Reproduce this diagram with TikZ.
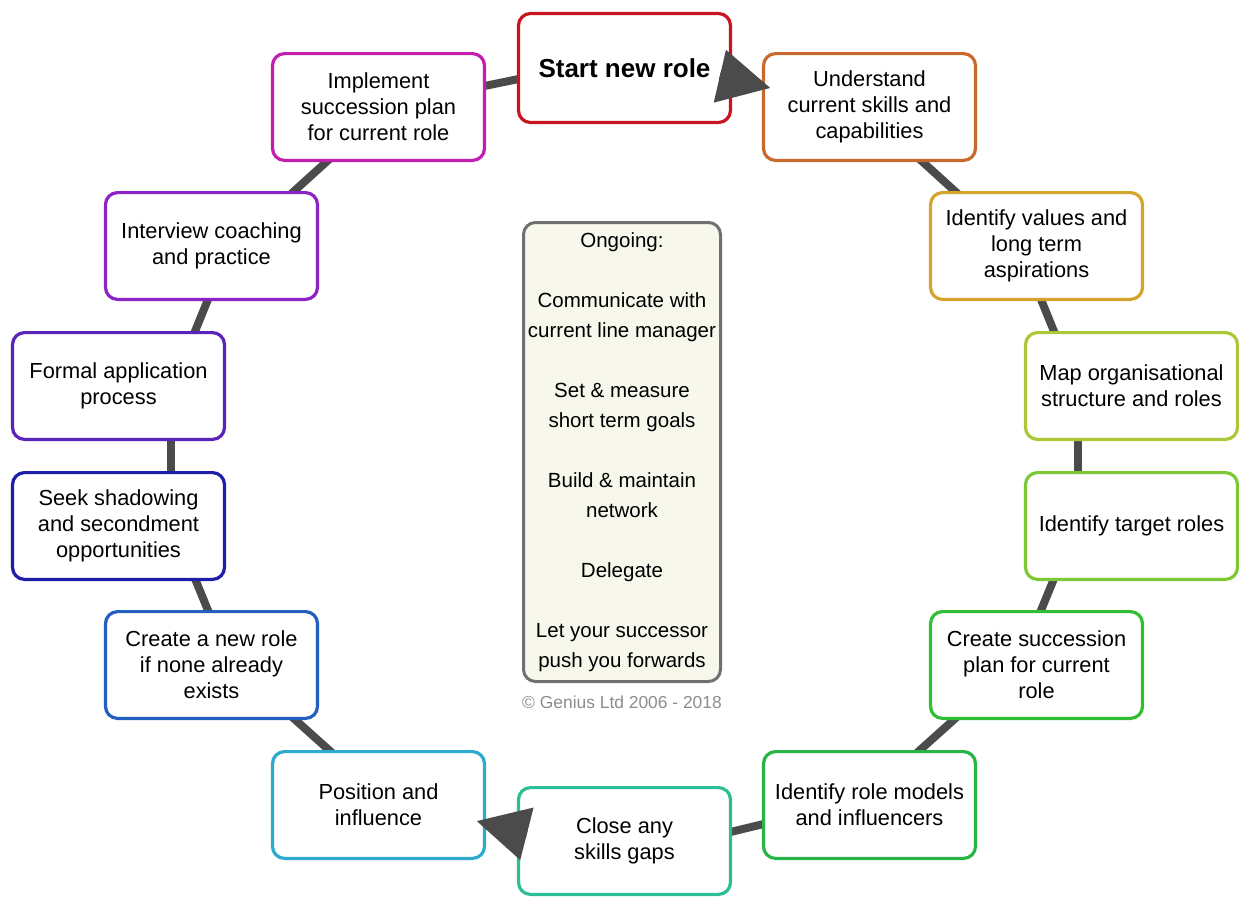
\documentclass[tikz,border=0pt]{standalone}
\usepackage{fontspec}
\setmainfont{Liberation Sans}
\usetikzlibrary{arrows.meta,backgrounds}

\definecolor{cStart}{RGB}{200,20,30}
\definecolor{cUnd}{RGB}{200,105,45}
\definecolor{cVal}{RGB}{212,165,45}
\definecolor{cMap}{RGB}{170,200,55}
\definecolor{cTgt}{RGB}{125,200,55}
\definecolor{cCsp}{RGB}{50,190,50}
\definecolor{cRm}{RGB}{40,180,70}
\definecolor{cGap}{RGB}{45,190,150}
\definecolor{cPos}{RGB}{45,170,205}
\definecolor{cNew}{RGB}{35,95,190}
\definecolor{cShd}{RGB}{30,30,170}
\definecolor{cFrm}{RGB}{90,35,185}
\definecolor{cInt}{RGB}{140,35,195}
\definecolor{cImp}{RGB}{195,30,175}
\definecolor{linkgray}{RGB}{75,75,75}
\definecolor{hubfill}{RGB}{247,247,236}
\definecolor{hubdraw}{RGB}{112,112,112}
\definecolor{notegray}{RGB}{140,140,140}

\begin{document}
\begin{tikzpicture}[x=0.5pt,y=-0.5pt,
  stage/.style={draw=#1, line width=1.6pt, rounded corners=6pt, fill=white,
    minimum width=106pt, minimum height=53.4pt, inner sep=2pt, outer sep=0pt,
    align=center, font=\fontsize{10.9}{13}\selectfont},
  link/.style={draw=linkgray, line width=4pt, shorten <=-4pt, shorten >=-4pt},
  push/.style={draw=linkgray, line width=4pt, -{Triangle[length=26pt,width=26pt]}}]

\useasboundingbox (0,0) rectangle (1239,896);

% the cycle of stages
\node[stage=cStart, minimum height=54.5pt, font=\fontsize{13}{15}\selectfont\bfseries] (start) at (624.5,68) {Start new role};
\node[stage=cUnd] (und) at (869.5,107) {Understand\\current skills and\\capabilities};
\node[stage=cVal] (val) at (1036.5,246) {Identify values and\\long term\\aspirations};
\node[stage=cMap] (map) at (1131.5,386) {Map organisational\\structure and roles};
\node[stage=cTgt] (tgt) at (1131.5,526) {Identify target roles};
\node[stage=cCsp] (csp) at (1036.5,665) {Create succession\\plan for current\\role};
\node[stage=cRm] (rm) at (869.5,805) {Identify role models\\and influencers};
\node[stage=cGap] (gap) at (624.5,841) {Close any\\skills gaps};
\node[stage=cPos] (pos) at (378.5,805) {Position and\\influence};
\node[stage=cNew] (new) at (211.5,665) {Create a new role\\if none already\\exists};
\node[stage=cShd] (shd) at (118.5,526) {Seek shadowing\\and secondment\\opportunities};
\node[stage=cFrm] (frm) at (118.5,386) {Formal application\\process};
\node[stage=cInt] (int) at (211.5,246) {Interview coaching\\and practice};
\node[stage=cImp] (imp) at (378.5,107) {Implement\\succession plan\\for current role};

% ongoing activities in the middle
\node[draw=hubdraw, fill=hubfill, line width=1.5pt, rounded corners=6pt,
  minimum width=98.5pt, minimum height=229.5pt, inner sep=2pt, align=center,
  font=\fontsize{10.25}{15}\selectfont] (hub) at (622,452)
  {Ongoing:\\[15pt]Communicate with\\current line manager\\[15pt]Set \& measure\\short term goals\\[15pt]Build \& maintain\\network\\[15pt]Delegate\\[15pt]Let your successor\\push you forwards};
\node[text=notegray, font=\fontsize{8.7}{10}\selectfont, inner sep=0pt] (note) at (622,702) {© Genius Ltd 2006 - 2018};

% ring connectors behind the stages
\begin{scope}[on background layer]
  \draw[link] ([yshift=10.5pt]imp.east) -- ([yshift=-5.5pt]start.west);
  \draw[link] ([xshift=25.75pt]und.south) -- ([xshift=-40pt]val.north);
  \draw[link] ([xshift=2.25pt]val.south) -- ([xshift=-38.5pt]map.north);
  \draw[link] ([xshift=-26.75pt]map.south) -- ([xshift=-26.75pt]tgt.north);
  \draw[link] ([xshift=-38.9pt]tgt.south) -- ([xshift=2pt]csp.north);
  \draw[link] ([xshift=-40.6pt]csp.south) -- ([xshift=24.4pt]rm.north);
  \draw[link] ([yshift=-9.5pt]rm.west) -- ([yshift=4.5pt]gap.east);
  \draw[link] ([xshift=-23.9pt]pos.north) -- ([xshift=41.1pt]new.south);
  \draw[link] ([xshift=-1.5pt]new.north) -- ([xshift=38.4pt]shd.south);
  \draw[link] ([xshift=26.25pt]shd.north) -- ([xshift=26.25pt]frm.south);
  \draw[link] ([xshift=38pt]frm.north) -- ([xshift=-1.75pt]int.south);
  \draw[link] ([xshift=40.5pt]int.north) -- ([xshift=-25.25pt]imp.south);
\end{scope}

% direction markers drawn over the boxes
\draw[push] ([xshift=-5.4pt,yshift=-4.1pt]start.east) -- ([xshift=3.5pt,yshift=9.5pt]und.west);
\draw[push] ([xshift=4.2pt,yshift=3.6pt]gap.west) -- ([xshift=-4pt,yshift=-8pt]pos.east);

\end{tikzpicture}
\end{document}
